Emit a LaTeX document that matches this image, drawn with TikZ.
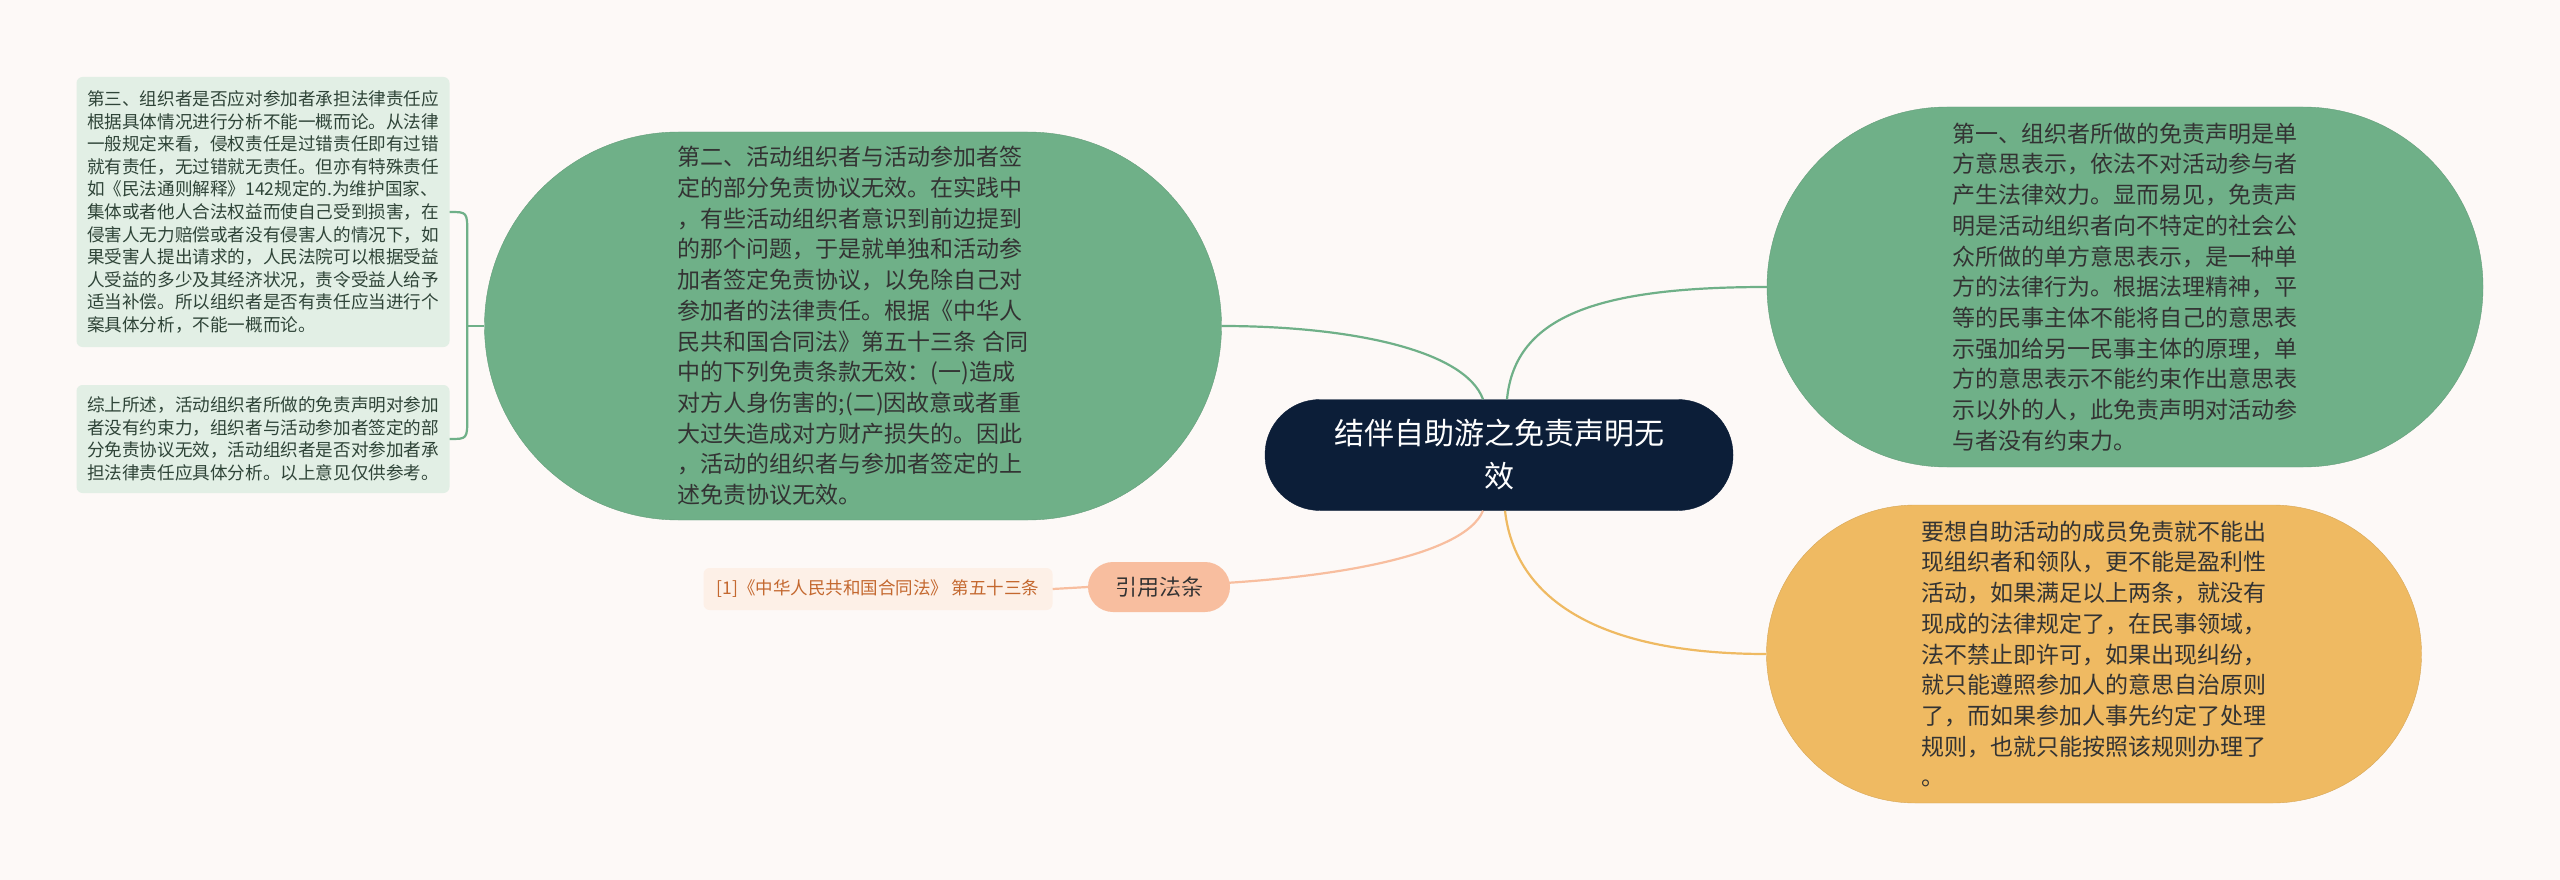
\documentclass[tikz,border=0pt]{standalone}
\usepackage{fontspec}
\setmainfont{Noto Sans CJK SC}
\definecolor{bgcol}{HTML}{FDF9F7}
\definecolor{rootcol}{HTML}{0C1E38}
\definecolor{greencol}{HTML}{6FB088}
\definecolor{orangecol}{HTML}{EFBA62}
\definecolor{peachcol}{HTML}{F8BE9F}
\definecolor{leafgreen}{HTML}{E2EFE5}
\definecolor{leafpeach}{HTML}{FDF0E7}
\definecolor{citetext}{HTML}{C4682F}
\definecolor{txt}{HTML}{333333}
\definecolor{leaftxt}{HTML}{2F4438}

\begin{document}
\begin{tikzpicture}[x=1pt,y=-1pt]
	\tikzstyle{Root} = [rectangle, rounded corners=55pt, minimum width=468pt, minimum height=111pt, align=center, fill=rootcol, draw=rootcol, text=white, font=\fontsize{30}{43}\selectfont]
	\tikzstyle{Topic} = [rectangle, inner sep=0pt, align=left, text=txt, font=\fontsize{23}{30.7}\selectfont]
	\tikzstyle{Leaf} = [rectangle, rounded corners=6pt, minimum width=373pt, inner sep=0pt, align=left, fill=leafgreen, text=leaftxt, font=\fontsize{17.6}{22.6}\selectfont]
	\tikzstyle{Cite} = [rectangle, rounded corners=25pt, minimum width=142pt, minimum height=50pt, fill=peachcol, text=txt, font=\fontsize{22}{26}\selectfont]
	\tikzstyle{CiteLeaf} = [rectangle, rounded corners=6pt, minimum width=349pt, minimum height=42pt, fill=leafpeach, text=citetext, font=\fontsize{17.5}{21}\selectfont]
	\tikzstyle{Green} = [line width=2.2pt, greencol]
	\tikzstyle{Orange} = [line width=2.2pt, orangecol]
	\tikzstyle{Peach} = [line width=2.2pt, peachcol]
	
	\fill [bgcol] (0,0) rectangle (2560,880);
	\useasboundingbox (0,0) rectangle (2560,880);
	
	\node (root) [Root] at (1499,455) {结伴自助游之免责声明无\\效};
	\node (t1) [Topic, fill=greencol, draw=greencol!90!black, minimum width=716pt, minimum height=360pt, rounded corners=180pt] at (2125,287) {第一、组织者所做的免责声明是单\\方意思表示，依法不对活动参与者\\产生法律效力。显而易见，免责声\\明是活动组织者向不特定的社会公\\众所做的单方意思表示，是一种单\\方的法律行为。根据法理精神，平\\等的民事主体不能将自己的意思表\\示强加给另一民事主体的原理，单\\方的意思表示不能约束作出意思表\\示以外的人，此免责声明对活动参\\与者没有约束力。};
	\node (t2) [Topic, fill=greencol, draw=greencol!90!black, minimum width=737pt, minimum height=388pt, rounded corners=194pt] at (853,326) {第二、活动组织者与活动参加者签\\定的部分免责协议无效。在实践中\\，有些活动组织者意识到前边提到\\的那个问题，于是就单独和活动参\\加者签定免责协议，以免除自己对\\参加者的法律责任。根据《中华人\\民共和国合同法》第五十三条 合同\\中的下列免责条款无效：(一)造成\\对方人身伤害的;(二)因故意或者重\\大过失造成对方财产损失的。因此\\，活动的组织者与参加者签定的上\\述免责协议无效。};
	\node (t3) [Topic, fill=orangecol, draw=orangecol!90!black, minimum width=655pt, minimum height=298pt, rounded corners=149pt] at (2094,654) {要想自助活动的成员免责就不能出\\现组织者和领队，更不能是盈利性\\活动，如果满足以上两条，就没有\\现成的法律规定了，在民事领域，\\法不禁止即许可，如果出现纠纷，\\就只能遵照参加人的意思自治原则\\了，而如果参加人事先约定了处理\\规则，也就只能按照该规则办理了\\。};
	\node (l1) [Leaf, minimum height=270pt] at (263,212) {第三、组织者是否应对参加者承担法律责任应\\根据具体情况进行分析不能一概而论。从法律\\一般规定来看，侵权责任是过错责任即有过错\\就有责任，无过错就无责任。但亦有特殊责任\\如《民法通则解释》142规定的.为维护国家、\\集体或者他人合法权益而使自己受到损害，在\\侵害人无力赔偿或者没有侵害人的情况下，如\\果受害人提出请求的，人民法院可以根据受益\\人受益的多少及其经济状况，责令受益人给予\\适当补偿。所以组织者是否有责任应当进行个\\案具体分析，不能一概而论。};
	\node (l2) [Leaf, minimum height=108pt] at (263,439) {综上所述，活动组织者所做的免责声明对参加\\者没有约束力，组织者与活动参加者签定的部\\分免责协议无效，活动组织者是否对参加者承\\担法律责任应具体分析。以上意见仅供参考。};
	\node (cite) [Cite] at (1159,587) {引用法条};
	\node (law) [CiteLeaf] at (878,589) {[1]《中华人民共和国合同法》 第五十三条};
	
	\draw [Green] ([xshift=8pt]root.north) .. controls (1515,315) and (1600,287) .. (t1.west);
	\draw [Green] ([xshift=-16pt]root.north) .. controls (1465,350) and (1350,326) .. (t2.east);
	\draw [Orange] ([xshift=6pt]root.south) .. controls (1515,600) and (1600,654) .. (t3.west);
	\draw [Peach] ([xshift=-16pt]root.south) .. controls (1465,555) and (1330,587) .. (cite.west);
	\draw [Peach] (law.east) -- (cite.west);
	\draw [Green] (t2.west) -- ++(-17,0) coordinate (joint);
	\draw [Green] (l1.east) .. controls (joint |- l1.east) .. ([yshift=-22pt]joint |- l1.east) -- ([yshift=22pt]joint |- l2.east) .. controls (joint |- l2.east) .. (l2.east);
\end{tikzpicture}
\end{document}
